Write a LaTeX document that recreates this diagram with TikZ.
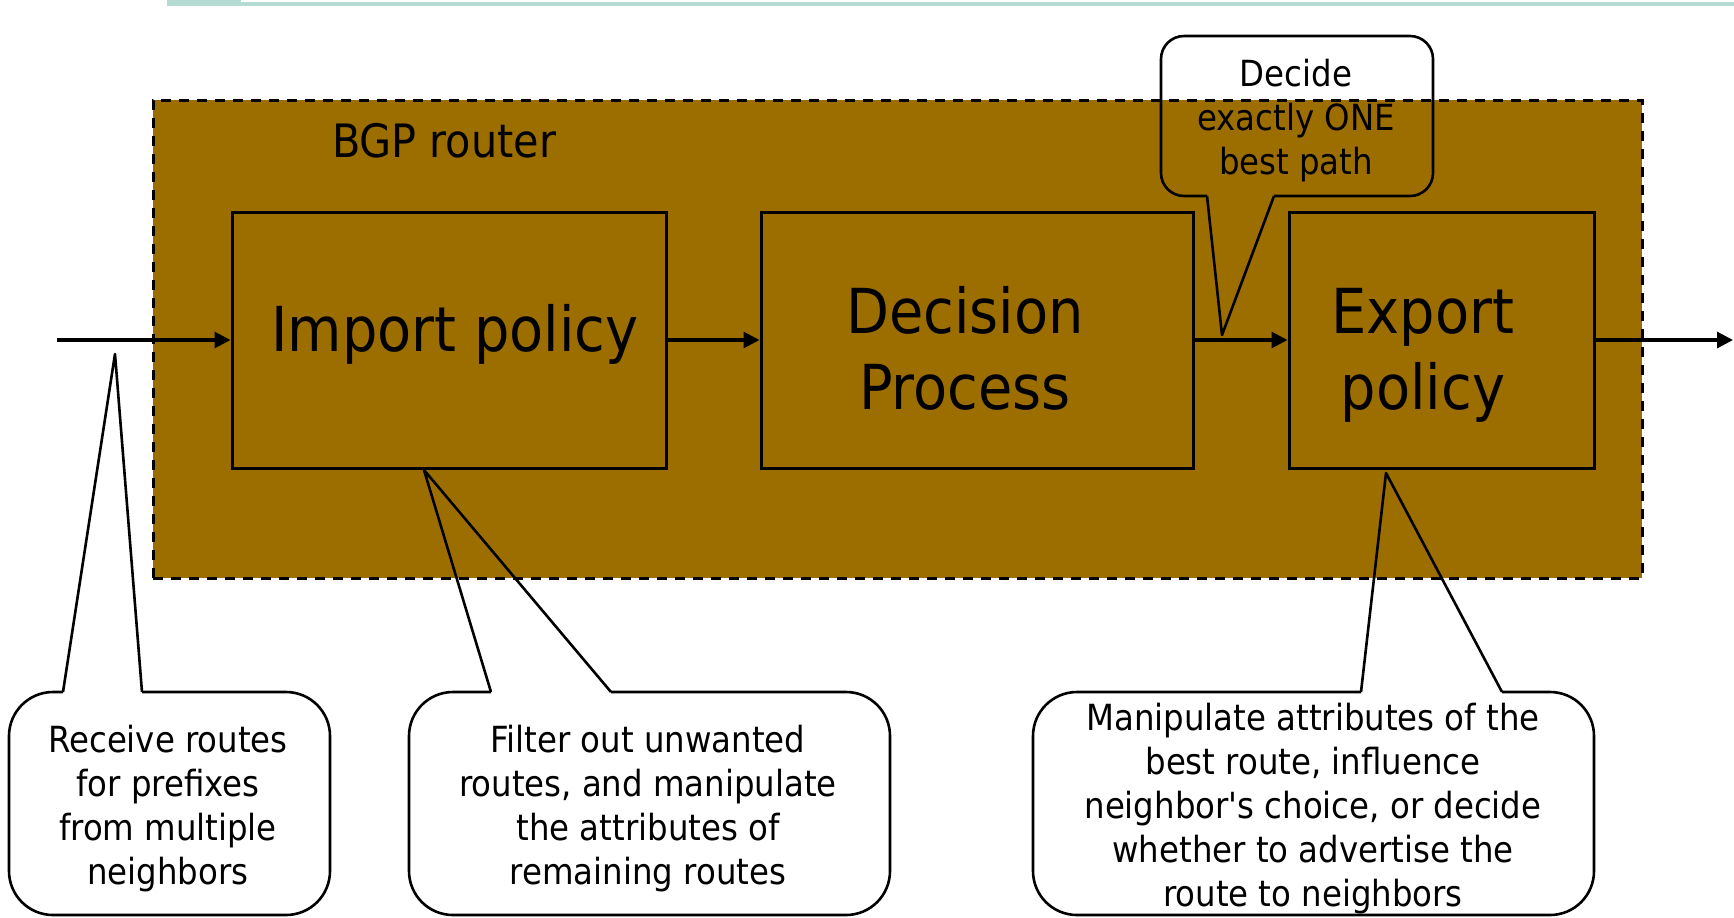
\documentclass[tikz,border=0pt]{standalone}
\usepackage{fontspec}
\setmainfont{DejaVu Sans Condensed}[Ligatures=TeXOff]
\usetikzlibrary{arrows.meta}

\definecolor{routerbrown}{RGB}{156,110,0}
\definecolor{slideteal}{RGB}{180,220,210}

\tikzset{
  policybox/.style={draw, line width=1.5pt, fill=routerbrown, minimum height=128pt, inner sep=0pt},
  routerframe/.style={draw, dash pattern=on 5pt off 4pt, line width=1.5pt, fill=routerbrown, minimum width=744.5pt, minimum height=239pt, inner sep=0pt},
  bigtext/.style={font=\fontsize{31}{38}\selectfont, align=center, inner sep=0pt},
  notetext/.style={font=\fontsize{18}{22}\selectfont, align=center, inner sep=0pt},
  flow/.style={line width=1.6pt, -{Triangle[length=8pt, width=8pt]}},
  bubble/.style={line width=1.3pt, line join=round},
}

\begin{document}
\begin{tikzpicture}[x=0.5pt, y=-0.5pt]
        \useasboundingbox (0,0) rectangle (1734,917);

        % slide rule at the top
        \fill[slideteal] (167,0) rectangle (241,6);
        \fill[slideteal] (241,2) rectangle (1734,6);

        % the router
        \node[routerframe] (router) at (897.5,339) {};
        \node[font=\fontsize{23}{28}\selectfont, inner sep=0pt] (routerlabel) at (444,141) {BGP router};

        \node[policybox, minimum width=217pt] (import) at (449,340) {};
        \node[policybox, minimum width=216pt] (decision) at (977,340) {};
        \node[policybox, minimum width=152.5pt] (export) at (1441.5,340) {};

        \node[bigtext] (importtext) at (455,334) {Import policy};
        \node[bigtext] (decisiontext) at (965,348) {Decision\\Process};
        \node[bigtext] (exporttext) at (1423,355) {Export\\policy};

        \coordinate (in) at (57,340);
        \coordinate (out) at (1733,340);

        \draw[flow] (in) -- (import.west);
        \draw[flow] (import.east) -- (decision.west);
        \draw[flow] (decision.east) -- (export.west);
        \draw[flow] (export.east) -- (out);

        % callouts
        \draw[bubble] (1207,196) -- (1222,335) -- (1274,196);
        \draw[bubble, rounded corners=11.5pt] (1274,196) -- (1433,196) -- (1433,36) -- (1161,36) -- (1161,196) -- (1207,196);
        \node[notetext] (decide) at (1296,121) {Decide\\exactly ONE\\best path};

        \draw[bubble] (63,692) -- (115,354) -- (142,692);
        \draw[bubble, rounded corners=22pt] (142,692) -- (330,692) -- (330,915) -- (9,915) -- (9,692) -- (63,692);
        \node[notetext] (receive) at (168,809) {Receive routes\\for prefixes\\from multiple\\neighbors};

        \draw[bubble] (491,692) -- (424,470) -- (611,692);
        \draw[bubble, rounded corners=22pt] (611,692) -- (890,692) -- (890,915) -- (409,915) -- (409,692) -- (491,692);
        \node[notetext] (filter) at (648,809) {Filter out unwanted\\routes, and manipulate\\the attributes of\\remaining routes};

        \draw[bubble] (1361,692) -- (1386,473) -- (1502,692);
        \draw[bubble, rounded corners=22pt] (1502,692) -- (1594,692) -- (1594,915) -- (1033,915) -- (1033,692) -- (1361,692);
        \node[notetext] (manipulate) at (1313,809) {Manipulate attributes of the\\best route, influence\\neighbor's choice, or decide\\whether to advertise the\\route to neighbors};

\end{tikzpicture}
\end{document}
